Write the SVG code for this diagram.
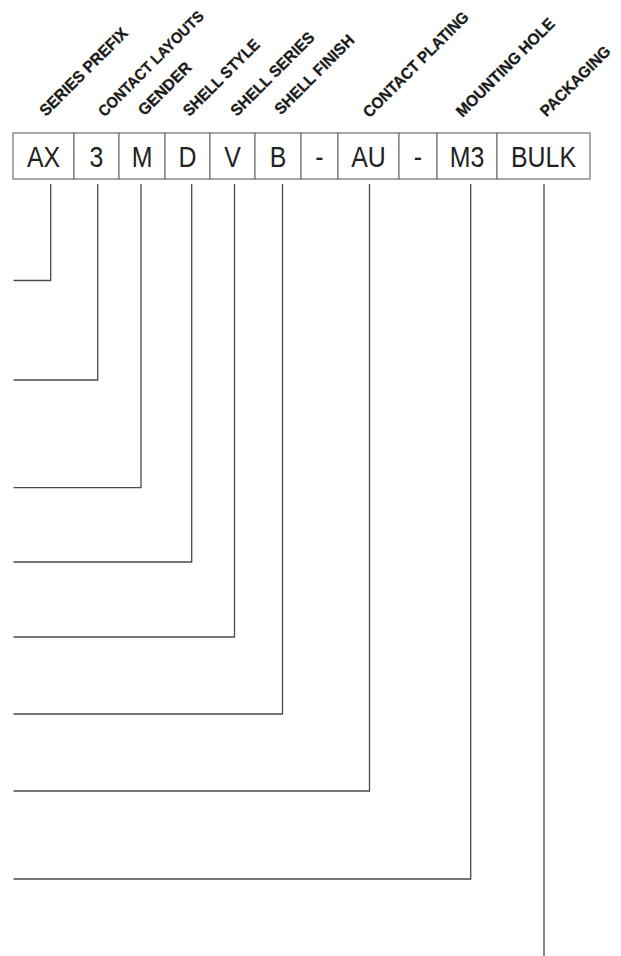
<svg xmlns="http://www.w3.org/2000/svg" width="621" height="956" viewBox="0 0 621 956">
<style>
.bg{fill:#ffffff}
.cell{fill:#ffffff;stroke:#7a7a7a;stroke-width:1.3}
.code{font-family:"Liberation Sans",Arial,sans-serif;font-size:30px;fill:#222;text-anchor:middle}
.lbl{font-family:"Liberation Sans",Arial,sans-serif;font-weight:bold;font-size:16px;fill:#1a1a1a;stroke:#1a1a1a;stroke-width:0.3}
.lbl.sm{font-size:15.3px}
.conn{fill:none;stroke:#4a4a4a;stroke-width:1.3}
</style>
<rect class="bg" x="0" y="0" width="621" height="956"/>
<g id="labels">
<text class="lbl" transform="translate(46,117) rotate(-45)" textLength="117" lengthAdjust="spacingAndGlyphs">SERIES PREFIX</text>
<text class="lbl sm" transform="translate(104.5,117.5) rotate(-45)" textLength="142" lengthAdjust="spacingAndGlyphs">CONTACT LAYOUTS</text>
<text class="lbl" transform="translate(144.5,116.5) rotate(-45)" textLength="68" lengthAdjust="spacingAndGlyphs">GENDER</text>
<text class="lbl" transform="translate(189.5,117) rotate(-45)" textLength="101" lengthAdjust="spacingAndGlyphs">SHELL STYLE</text>
<text class="lbl" transform="translate(237,117) rotate(-45)" textLength="111" lengthAdjust="spacingAndGlyphs">SHELL SERIES</text>
<text class="lbl" transform="translate(281,115.5) rotate(-45)" textLength="105" lengthAdjust="spacingAndGlyphs">SHELL FINISH</text>
<text class="lbl" transform="translate(369.5,118.5) rotate(-45)" textLength="142" lengthAdjust="spacingAndGlyphs">CONTACT PLATING</text>
<text class="lbl" transform="translate(462.5,118) rotate(-45)" textLength="132" lengthAdjust="spacingAndGlyphs">MOUNTING HOLE</text>
<text class="lbl" transform="translate(546.5,117.5) rotate(-45)" textLength="92" lengthAdjust="spacingAndGlyphs">PACKAGING</text>
</g>
<g id="node-ax"><rect class="cell" x="13" y="133" width="61" height="46"/><text class="code" transform="translate(43.5,166.5) scale(0.83,1)">AX</text></g>
<g id="node-3"><rect class="cell" x="74" y="133" width="45" height="46"/><text class="code" transform="translate(96.5,166.5) scale(0.83,1)">3</text></g>
<g id="node-m"><rect class="cell" x="119" y="133" width="46" height="46"/><text class="code" transform="translate(142,166.5) scale(0.83,1)">M</text></g>
<g id="node-d"><rect class="cell" x="165" y="133" width="45" height="46"/><text class="code" transform="translate(187.5,166.5) scale(0.83,1)">D</text></g>
<g id="node-v"><rect class="cell" x="210" y="133" width="45" height="46"/><text class="code" transform="translate(232.5,166.5) scale(0.83,1)">V</text></g>
<g id="node-b"><rect class="cell" x="255" y="133" width="46" height="46"/><text class="code" transform="translate(278,166.5) scale(0.83,1)">B</text></g>
<g id="node-dash1"><rect class="cell" x="301" y="133" width="37" height="46"/><text class="code" transform="translate(319.5,166.5) scale(0.83,1)">-</text></g>
<g id="node-au"><rect class="cell" x="338" y="133" width="61" height="46"/><text class="code" transform="translate(368.5,166.5) scale(0.83,1)">AU</text></g>
<g id="node-dash2"><rect class="cell" x="399" y="133" width="38" height="46"/><text class="code" transform="translate(418,166.5) scale(0.83,1)">-</text></g>
<g id="node-m3"><rect class="cell" x="437" y="133" width="60" height="46"/><text class="code" transform="translate(467,166.5) scale(0.83,1)">M3</text></g>
<g id="node-bulk"><rect class="cell" x="497" y="133" width="93" height="46"/><text class="code" transform="translate(543.5,166.5) scale(0.83,1)">BULK</text></g>
<g id="connectors">
<polyline class="conn" points="50.7,184 50.7,280.5 13.5,280.5"/>
<polyline class="conn" points="97.7,184 97.7,380 13.5,380"/>
<polyline class="conn" points="141,184 141,487.7 13.5,487.7"/>
<polyline class="conn" points="191.7,184 191.7,562 13.5,562"/>
<polyline class="conn" points="234.5,184 234.5,637 13.5,637"/>
<polyline class="conn" points="282.5,184 282.5,714 13.5,714"/>
<polyline class="conn" points="369.5,184 369.5,791 13.5,791"/>
<polyline class="conn" points="470.7,184 470.7,879 13.5,879"/>
<polyline class="conn" points="544,184 544,956"/>
</g>
</svg>
